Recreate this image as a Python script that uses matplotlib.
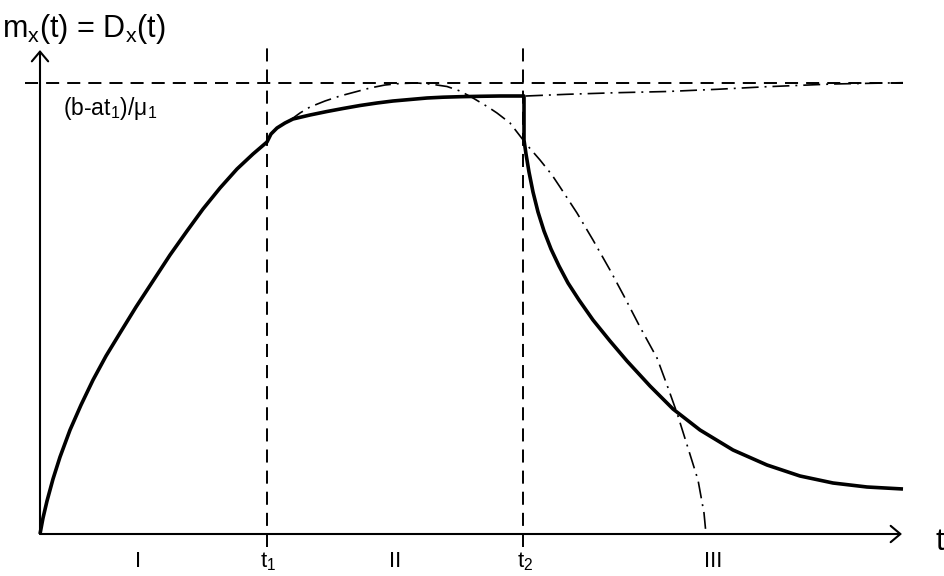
import matplotlib
matplotlib.use("Agg")
import matplotlib.pyplot as plt

plt.rcParams['font.family'] = ['Liberation Sans', 'DejaVu Sans']
plt.rcParams['mathtext.fontset'] = 'custom'
plt.rcParams['mathtext.rm'] = 'Liberation Sans'
plt.rcParams['mathtext.it'] = 'Liberation Sans:italic'
plt.rcParams['lines.scale_dashes'] = False

# ---- data (t, m) ----
t1 = 227
t2 = 483
level = 451.5

t_phase1 = [0, 3, 7, 13, 20, 30, 41, 53, 66, 80, 96, 113, 130, 147, 163, 180, 197, 213, 227]
m_phase1 = [0, 16, 33, 55, 77, 104, 129, 154, 178, 201, 227, 253, 279, 303, 325, 346, 365, 380, 392]

t_phase2 = [227, 231, 237, 245, 253, 270, 287, 303, 320, 337, 353, 370, 387, 403, 420, 440, 460, 483]
m_phase2 = [392, 400, 406, 411, 415, 419, 422.5, 425.5, 428.5, 431, 433, 434.5, 436, 436.8, 437.3, 437.7, 438, 438]

t_phase3 = [484, 484, 486, 489, 493, 498, 504, 511, 519, 528, 539, 553, 570, 587, 610, 633,
            660, 693, 727, 760, 793, 827, 863]
m_phase3 = [438, 394, 380, 362, 342, 322, 303, 285, 268, 251, 234, 214, 193, 173, 148, 125,
            104, 84, 69, 58, 51, 47, 45]

t_arc = [249, 260, 270, 285, 300, 315, 330, 345, 360, 377, 390, 407, 420, 433, 448, 457, 470, 487,
         500, 512, 520, 537, 553, 570, 585, 600, 617, 627, 637, 648, 658, 664, 666]
m_arc = [413, 421, 427, 433, 438, 442, 446, 449, 450.5, 451, 450, 447.5, 443, 436, 427, 421, 411, 389,
         374, 359, 347, 321, 294, 264, 236, 207, 176, 149, 121, 86, 54, 21, 0]

t_tail = [486, 527, 577, 627, 677, 727, 793, 863]
m_tail = [438, 439.7, 441.3, 442.5, 444.7, 447.3, 450, 451.3]

labels_x = ['I', 't$_1$', 'II', 't$_2$', 'III']
labels_t = [98, 228, 355, 485, 673]

W, H = 944, 576
fig = plt.figure(figsize=(W / 100, H / 100), dpi=100)
ax = fig.add_axes([0, 0, 1, 1])
ax.set_xlim(-40, W - 40)
ax.set_ylim(534 - H, 534)
ax.axis('off')

k = 'black'
dash = (0, (9.4, 5.8))
dashdot = (0, (12.2, 4.3, 1.4, 4.3))

# reference lines
ax.plot([-15, 863], [level, level], color=k, lw=1.4, linestyle=dash)
for tv in (t1, t2):
    ax.plot([tv, tv], [-13, 486], color=k, lw=1.4, linestyle=dash)

# dash-dot curves
ax.plot(t_arc, m_arc, color=k, lw=1.2, linestyle=dashdot)
ax.plot(t_tail, m_tail, color=k, lw=1.2, linestyle=dashdot)

# main solid curve
ax.plot(t_phase1 + t_phase2[1:] + t_phase3, m_phase1 + m_phase2[1:] + m_phase3,
        color=k, lw=2.6, solid_joinstyle='round', solid_capstyle='butt')

# axes arrows
ap = dict(arrowstyle='->,head_length=0.5,head_width=0.42', lw=1.5, color=k,
          shrinkA=0, shrinkB=0, mutation_scale=14)
ax.annotate('', xy=(862, 0), xytext=(0, 0), arrowprops=ap)
ax.annotate('', xy=(0, 484), xytext=(0, 0), arrowprops=ap)

# texts
def fp(x, y):
    return x / W, 1 - y / H

fig.text(*fp(2, 37), r'm$_\mathregular{x}$(t) = D$_\mathregular{x}$(t)', fontsize=22,
         ha='left', va='baseline')
fig.text(*fp(63, 115), r'(b-at$_\mathregular{1}$)/μ$_\mathregular{1}$', fontsize=16.5,
         ha='left', va='baseline')
for lab, tv in zip(labels_x, labels_t):
    ax.text(tv, 534 - 567, lab, fontsize=16, ha='center', va='baseline')
fig.text(*fp(936, 550), 't', fontsize=22, ha='left', va='baseline')

fig.savefig('out.png', dpi=100)
